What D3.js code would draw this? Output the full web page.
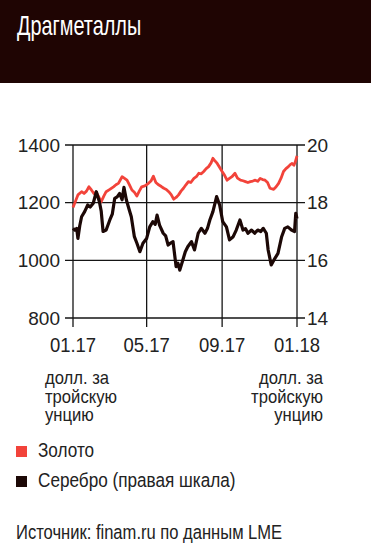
<!DOCTYPE html>
<html>
<head>
<meta charset="utf-8">
<script src="https://cdn.jsdelivr.net/npm/d3@7"></script>
<style>
  body { margin: 0; background: #fff; }
  svg text { font-family: "Liberation Sans", Arial, sans-serif; }
</style>
</head>
<body>
<div class="chart"></div>
<script>
// Configuration
var width = 371;
var height = 552;
var goldColor = '#f2433a';
var silverColor = '#1c0806';
var headerColor = '#1f0503';
var textColor = '#222';

// gold, usd per troy ounce (left scale)
var goldDates = ["2017-01-01","2017-01-05","2017-01-09","2017-01-15","2017-01-19","2017-01-23","2017-01-27","2017-01-31","2017-02-04","2017-02-08",
  "2017-02-12","2017-02-16","2017-02-20","2017-02-24","2017-03-02","2017-03-08","2017-03-12","2017-03-16","2017-03-22","2017-03-26","2017-03-30",
  "2017-04-03","2017-04-07","2017-04-11","2017-04-15","2017-04-19","2017-04-23","2017-04-28","2017-05-04","2017-05-08","2017-05-12","2017-05-16",
  "2017-05-21","2017-05-25","2017-05-29","2017-06-02","2017-06-06","2017-06-10","2017-06-14","2017-06-18","2017-06-22","2017-06-26","2017-06-30",
  "2017-07-04","2017-07-08","2017-07-12","2017-07-17","2017-07-21","2017-07-25","2017-07-29","2017-08-02","2017-08-06","2017-08-10","2017-08-14",
  "2017-08-17","2017-08-20","2017-08-24","2017-08-28","2017-09-01","2017-09-05","2017-09-09","2017-09-13","2017-09-17","2017-09-22","2017-09-26",
  "2017-10-01","2017-10-05","2017-10-09","2017-10-13","2017-10-17","2017-10-21","2017-10-25","2017-10-29","2017-11-02","2017-11-06","2017-11-10",
  "2017-11-14","2017-11-18","2017-11-24","2017-11-28","2017-12-02","2017-12-06","2017-12-10","2017-12-14","2017-12-18","2017-12-21","2017-12-24",
  "2017-12-27","2017-12-29","2018-01-01"];
var goldValues = [1183,1205,1227,1238,1232,1240,1255,1244,1232,1236,
  1220,1203,1222,1238,1246,1255,1262,1267,1290,1284,1278,
  1262,1244,1236,1223,1240,1255,1258,1267,1275,1292,1270,
  1261,1256,1250,1246,1238,1228,1212,1218,1227,1240,1250,
  1262,1273,1270,1284,1290,1302,1300,1308,1318,1325,1338,
  1354,1346,1336,1322,1308,1295,1278,1284,1290,1302,1285,
  1278,1276,1273,1270,1273,1275,1278,1274,1284,1280,1278,
  1270,1250,1246,1255,1267,1285,1308,1318,1325,1332,1336,
  1330,1340,1362];

// silver, usd per troy ounce (right scale)
var silverDates = ["2017-01-01","2017-01-04","2017-01-07","2017-01-09","2017-01-12","2017-01-15","2017-01-20","2017-01-25","2017-01-29","2017-02-03",
  "2017-02-08","2017-02-13","2017-02-16","2017-02-19","2017-02-24","2017-03-02","2017-03-06","2017-03-10","2017-03-14","2017-03-18","2017-03-22",
  "2017-03-25","2017-03-29","2017-04-02","2017-04-06","2017-04-11","2017-04-15","2017-04-20","2017-04-25","2017-05-01","2017-05-06","2017-05-11",
  "2017-05-15","2017-05-18","2017-05-22","2017-05-28","2017-06-01","2017-06-05","2017-06-09","2017-06-13","2017-06-18","2017-06-21","2017-06-24",
  "2017-06-29","2017-07-03","2017-07-07","2017-07-13","2017-07-18","2017-07-24","2017-07-29","2017-08-04","2017-08-08","2017-08-12","2017-08-17",
  "2017-08-23","2017-08-28","2017-09-02","2017-09-08","2017-09-13","2017-09-19","2017-09-24","2017-09-30","2017-10-05","2017-10-09","2017-10-13",
  "2017-10-19","2017-10-24","2017-10-29","2017-11-03","2017-11-07","2017-11-12","2017-11-15","2017-11-20","2017-11-26","2017-12-01","2017-12-07",
  "2017-12-12","2017-12-17","2017-12-23","2017-12-28","2017-12-30","2018-01-01"];
var silverValues = [17.11,17.05,17.11,16.76,17.2,17.51,17.69,17.92,17.85,17.98,
  18.38,18.03,17.7,17.0,17.05,17.4,17.6,18.15,18.2,18.32,18.1,
  18.53,18.09,17.8,17.51,16.82,16.6,16.3,16.59,16.76,17.16,17.34,
  17.25,17.57,17.22,16.94,16.85,16.53,16.6,16.65,15.78,15.9,15.66,
  16.01,16.3,16.47,16.65,16.36,16.94,17.11,16.94,17.1,17.4,17.69,
  18.21,17.92,17.34,17.16,16.71,16.82,17.05,17.4,17.05,17.1,16.94,
  17.05,16.94,17.05,17.0,17.11,16.94,16.36,15.84,16.07,16.24,16.82,
  17.11,17.16,17.05,17.0,17.63,17.45];

var goldTicks = [800, 1000, 1200, 1400];
var silverTicks = [14, 16, 18, 20];
var monthTicks = ["2017-01-01", "2017-05-01", "2017-09-01", "2018-01-01"];
var unitLabel = ["долл. за", "тройскую", "унцию"];
var legendItems = [["Золото", goldColor], ["Серебро (правая шкала)", silverColor]];

var parse = d3.timeParse("%Y-%m-%d");

var svg = d3.select(".chart").append("svg")
    .attr("width", width)
    .attr("height", height);

// narrow text: the original face is condensed, squeeze Liberation Sans horizontally
function label(px, py, txt, size, sx, anchor, color) {
  return svg.append("text")
      .attr("transform", "translate(" + px + "," + py + ") scale(" + sx + ",1)")
      .attr("text-anchor", anchor || "start")
      .attr("fill", color || textColor)
      .style("font-size", size + "px")
      .text(txt);
}

// header band
svg.append("rect")
    .attr("width", width)
    .attr("height", 83)
    .attr("fill", headerColor);
label(17, 35, "Драгметаллы", 28, 0.71, "start", "#fff");

// scales
var x = d3.scaleTime()
    .domain([parse("2017-01-01"), parse("2018-01-01")])
    .range([73, 297]);
var yGold = d3.scaleLinear().domain([800, 1400]).range([318, 145]);
var ySilver = d3.scaleLinear().domain([14, 20]).range([318, 145]);

// grid
svg.selectAll(".hgrid")
    .data(goldTicks)
    .enter().append("line")
    .attr("x1", 65).attr("x2", 305)
    .attr("y1", d => yGold(d)).attr("y2", d => yGold(d))
    .attr("stroke", "#151515").attr("stroke-width", 1.3);

svg.selectAll(".vgrid")
    .data(monthTicks)
    .enter().append("line")
    .attr("x1", d => x(parse(d))).attr("x2", d => x(parse(d)))
    .attr("y1", 145).attr("y2", 327)
    .attr("stroke", "#151515").attr("stroke-width", 1.3);

// tick labels
goldTicks.forEach(function(d) {
  label(60, yGold(d) + 6.7, d, 19, 1, "end");
});
silverTicks.forEach(function(d) {
  label(307, ySilver(d) + 6.7, d, 19, 1, "start");
});

var fmt = d3.timeFormat("%m.%y");
monthTicks.forEach(function(d) {
  label(x(parse(d)), 352, fmt(parse(d)), 21, 0.88, "middle");
});

// lines
var goldLine = d3.line()
    .x((d, i) => x(parse(goldDates[i])))
    .y(d => yGold(d));
var silverLine = d3.line()
    .x((d, i) => x(parse(silverDates[i])))
    .y(d => ySilver(d));

svg.append("path")
    .datum(goldValues)
    .attr("d", goldLine)
    .attr("fill", "none")
    .attr("stroke", goldColor)
    .attr("stroke-width", 2.8)
    .attr("stroke-linejoin", "round");

svg.append("path")
    .datum(silverValues)
    .attr("d", silverLine)
    .attr("fill", "none")
    .attr("stroke", silverColor)
    .attr("stroke-width", 3.2)
    .attr("stroke-linejoin", "round");

// unit labels
unitLabel.forEach(function(t, i) {
  label(45, 384 + i * 18.5, t, 19, 0.875, "start");
  label(323, 384 + i * 18.5, t, 19, 0.875, "end");
});

// legend
legendItems.forEach(function(d, i) {
  svg.append("rect")
      .attr("x", 16).attr("y", 446 + i * 30)
      .attr("width", 11).attr("height", 11)
      .attr("fill", d[1]);
  label(38, 457 + i * 30, d[0], 19.5, 0.88, "start");
});

// source
label(16, 539, "Источник: finam.ru по данным LME", 19.5, 0.85, "start");
</script>
</body>
</html>
